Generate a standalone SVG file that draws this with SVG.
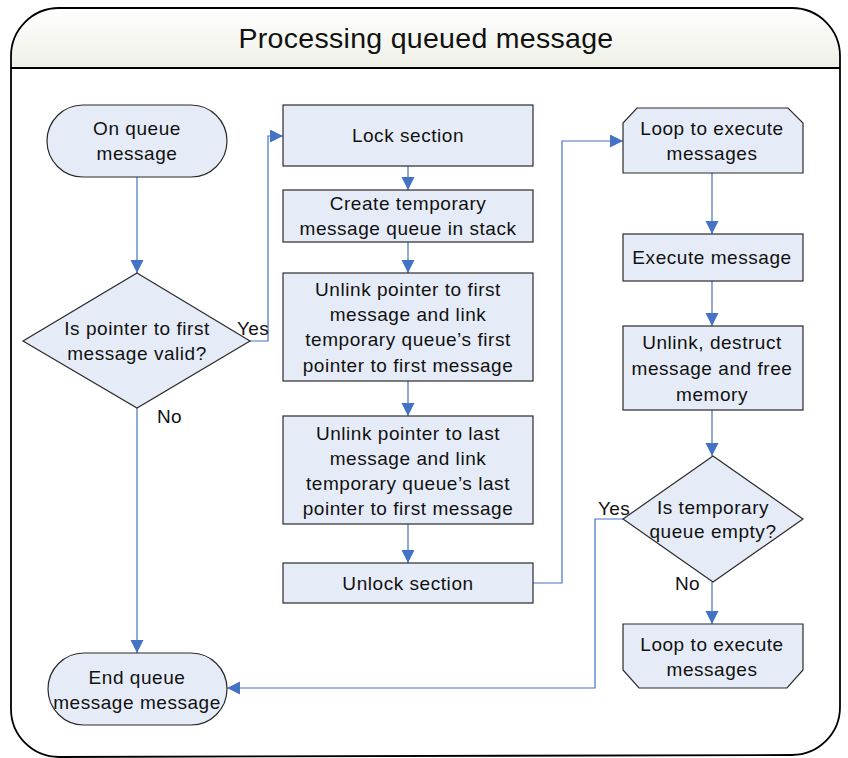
<svg xmlns="http://www.w3.org/2000/svg" width="848" height="758" viewBox="0 0 848 758">
<defs>
<linearGradient id="hdr" x1="0" y1="0" x2="0" y2="1">
<stop offset="0" stop-color="#ffffff"/>
<stop offset="1" stop-color="#eef0e6"/>
</linearGradient>
<marker id="arr" markerUnits="userSpaceOnUse" markerWidth="14" markerHeight="14" refX="13" refY="6.5" orient="auto">
<path d="M0,0 L13,6.5 L0,13 z" fill="#4472c4"/>
</marker>
</defs>
<style>
.shape{fill:#e6ecf7;stroke:#2b2b2b;stroke-width:1.2}
.t{font-family:"Liberation Sans",Arial,sans-serif;font-size:19px;letter-spacing:0.55px;fill:#111;text-anchor:middle}
.lbl{font-family:"Liberation Sans",Arial,sans-serif;font-size:19px;letter-spacing:0.4px;fill:#111}
.c{fill:none;stroke:#4472c4;stroke-width:1.2;marker-end:url(#arr)}
</style>
<g id="frame">
<path d="M11,757 L11,56 A48,48 0 0 1 59,8 L792,8 A48,48 0 0 1 840,56 L840,707 A48,48 0 0 1 792,755 L59,755" fill="#fff" stroke="none"/>
<path d="M11,68 L11,56 A48,48 0 0 1 59,8 L792,8 A48,48 0 0 1 840,56 L840,68 Z" fill="url(#hdr)"/>
<path d="M11,68 L11,56 A48,48 0 0 1 59,8 L792,8 A48,48 0 0 1 840,56 L840,707 A48,48 0 0 1 792,755 L59,757 A48,48 0 0 1 11,709 Z" fill="none" stroke="#000" stroke-width="1.8"/>
<line x1="11" y1="68" x2="840" y2="68" stroke="#000" stroke-width="1.8"/>
<text x="426" y="48" font-family="Liberation Sans, Arial, sans-serif" font-size="28.5" letter-spacing="0.3" text-anchor="middle" fill="#111">Processing queued message</text>
</g>
<g id="connectors">
<path class="c" d="M137,177 V273"/>
<path class="c" d="M250,341 H268 V136 H283"/>
<path class="c" d="M137,408 V653"/>
<path class="c" d="M408,166 V190"/>
<path class="c" d="M408,242 V273"/>
<path class="c" d="M408,381 V416"/>
<path class="c" d="M408,524 V563"/>
<path class="c" d="M533,583 H562 V141 H623"/>
<path class="c" d="M712,173 V234"/>
<path class="c" d="M712,281 V326"/>
<path class="c" d="M712,410 V456"/>
<path class="c" d="M623,519 H595 V688 H227"/>
<path class="c" d="M712,582 V624"/>
<text class="lbl" x="237" y="335">Yes</text>
<text class="lbl" x="157" y="423">No</text>
<text class="lbl" x="598" y="515">Yes</text>
<text class="lbl" x="675" y="590">No</text>
</g>
<g id="start">
<rect class="shape" x="47" y="105" width="180" height="72" rx="36" ry="36"/>
<text class="t" x="137" y="135">On queue</text>
<text class="t" x="137" y="160">message</text>
</g>
<g id="decision1">
<polygon class="shape" points="137,273 250,341 137,408 23,341"/>
<text class="t" x="137" y="335">Is pointer to first</text>
<text class="t" x="137" y="360">message valid?</text>
</g>
<g id="end">
<rect class="shape" x="48" y="653" width="179" height="72" rx="36" ry="36"/>
<text class="t" x="137" y="684">End queue</text>
<text class="t" x="137" y="709">message message</text>
</g>
<g id="lock">
<rect class="shape" x="283" y="105" width="250" height="61"/>
<text class="t" x="408" y="142">Lock section</text>
</g>
<g id="create">
<rect class="shape" x="283" y="190" width="250" height="52"/>
<text class="t" x="408" y="210">Create temporary</text>
<text class="t" x="408" y="235">message queue in stack</text>
</g>
<g id="unlinkFirst">
<rect class="shape" x="283" y="273" width="250" height="108"/>
<text class="t" x="408" y="296">Unlink pointer to first</text>
<text class="t" x="408" y="321">message and link</text>
<text class="t" x="408" y="346">temporary queue’s first</text>
<text class="t" x="408" y="372">pointer to first message</text>
</g>
<g id="unlinkLast">
<rect class="shape" x="283" y="416" width="250" height="108"/>
<text class="t" x="408" y="440">Unlink pointer to last</text>
<text class="t" x="408" y="465">message and link</text>
<text class="t" x="408" y="490">temporary queue’s last</text>
<text class="t" x="408" y="515">pointer to first message</text>
</g>
<g id="unlock">
<rect class="shape" x="283" y="563" width="250" height="40"/>
<text class="t" x="408" y="590">Unlock section</text>
</g>
<g id="loopStart">
<polygon class="shape" points="637,108 788,108 803,123 803,173 623,173 623,123"/>
<text class="t" x="712" y="135">Loop to execute</text>
<text class="t" x="712" y="160">messages</text>
</g>
<g id="execute">
<rect class="shape" x="623" y="234" width="180" height="47"/>
<text class="t" x="712" y="264">Execute message</text>
</g>
<g id="unlinkDestruct">
<rect class="shape" x="623" y="326" width="180" height="84"/>
<text class="t" x="712" y="349">Unlink, destruct</text>
<text class="t" x="712" y="375">message and free</text>
<text class="t" x="712" y="401">memory</text>
</g>
<g id="decision2">
<polygon class="shape" points="713,456 803,519 713,582 623,519"/>
<text class="t" x="713" y="514">Is temporary</text>
<text class="t" x="713" y="538">queue empty?</text>
</g>
<g id="loopEnd">
<polygon class="shape" points="623,624 803,624 803,670 787,688 639,688 623,670"/>
<text class="t" x="712" y="651">Loop to execute</text>
<text class="t" x="712" y="676">messages</text>
</g>
</svg>
